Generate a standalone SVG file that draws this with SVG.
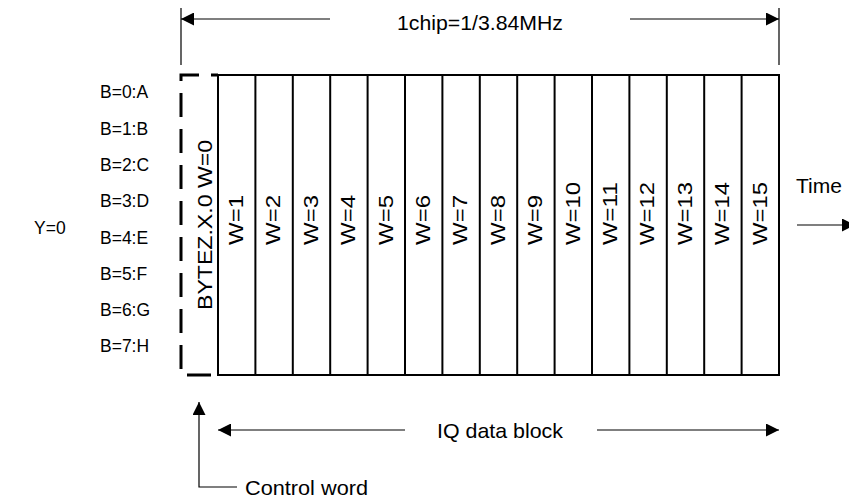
<svg xmlns="http://www.w3.org/2000/svg" width="849" height="501" viewBox="0 0 849 501">
<style>
text{font-family:"Liberation Sans",Arial,sans-serif;font-size:21px;fill:#000}
.bl{font-size:17.5px}
.vl{font-size:20px}
.thin{stroke:#000;stroke-width:1.2;fill:none}
.grid{stroke:#000;stroke-width:2;fill:none}
.dash{stroke:#000;stroke-width:3;fill:none;stroke-dasharray:24 12;stroke-dashoffset:17}
</style>
<defs>
<marker id="ah" viewBox="0 0 10 10" refX="10" refY="5" markerWidth="13" markerHeight="13" markerUnits="userSpaceOnUse" orient="auto">
<path d="M0,0 L10,5 L0,10 Z" fill="#000"/>
</marker>
</defs>
<g id="labels-left">
<text class="bl" x="34" y="234">Y=0</text>
<text class="bl" x="100" y="98">B=0:A</text>
<text class="bl" x="100" y="134.5">B=1:B</text>
<text class="bl" x="100" y="171">B=2:C</text>
<text class="bl" x="100" y="207">B=3:D</text>
<text class="bl" x="100" y="243.5">B=4:E</text>
<text class="bl" x="100" y="280">B=5:F</text>
<text class="bl" x="100" y="316">B=6:G</text>
<text class="bl" x="100" y="352">B=7:H</text>
</g>
<g id="control-word-box">
<path class="dash" d="M218,75 H181 V375 H218"/>
<text class="vl" transform="translate(212,310) rotate(-90)" textLength="170" lengthAdjust="spacingAndGlyphs">BYTEZ.X.0 W=0</text>
</g>
<g id="iq-block">
<path class="grid" d="M218,75 H779 V375 H218 Z"/>
<path class="grid" d="M255.4,75V375M292.8,75V375M330.2,75V375M367.6,75V375M405,75V375M442.4,75V375M479.8,75V375M517.2,75V375M554.6,75V375M592,75V375M629.4,75V375M666.8,75V375M704.2,75V375M741.6,75V375"/>
<text class="vl" transform="translate(243,245) rotate(-90)" textLength="50" lengthAdjust="spacingAndGlyphs">W=1</text>
<text class="vl" transform="translate(280.4,245) rotate(-90)" textLength="50" lengthAdjust="spacingAndGlyphs">W=2</text>
<text class="vl" transform="translate(317.8,245) rotate(-90)" textLength="50" lengthAdjust="spacingAndGlyphs">W=3</text>
<text class="vl" transform="translate(355.2,245) rotate(-90)" textLength="50" lengthAdjust="spacingAndGlyphs">W=4</text>
<text class="vl" transform="translate(392.6,245) rotate(-90)" textLength="50" lengthAdjust="spacingAndGlyphs">W=5</text>
<text class="vl" transform="translate(430,245) rotate(-90)" textLength="50" lengthAdjust="spacingAndGlyphs">W=6</text>
<text class="vl" transform="translate(467.4,245) rotate(-90)" textLength="50" lengthAdjust="spacingAndGlyphs">W=7</text>
<text class="vl" transform="translate(504.8,245) rotate(-90)" textLength="50" lengthAdjust="spacingAndGlyphs">W=8</text>
<text class="vl" transform="translate(542.2,245) rotate(-90)" textLength="50" lengthAdjust="spacingAndGlyphs">W=9</text>
<text class="vl" transform="translate(579.6,245) rotate(-90)" textLength="63" lengthAdjust="spacingAndGlyphs">W=10</text>
<text class="vl" transform="translate(617,245) rotate(-90)" textLength="63" lengthAdjust="spacingAndGlyphs">W=11</text>
<text class="vl" transform="translate(654.4,245) rotate(-90)" textLength="63" lengthAdjust="spacingAndGlyphs">W=12</text>
<text class="vl" transform="translate(691.8,245) rotate(-90)" textLength="63" lengthAdjust="spacingAndGlyphs">W=13</text>
<text class="vl" transform="translate(729.2,245) rotate(-90)" textLength="63" lengthAdjust="spacingAndGlyphs">W=14</text>
<text class="vl" transform="translate(766.6,245) rotate(-90)" textLength="63" lengthAdjust="spacingAndGlyphs">W=15</text>
</g>
<g id="connectors">
<path class="thin" d="M181,8V65M779,8V65"/>
<path class="thin" d="M330,19H181" marker-end="url(#ah)"/>
<path class="thin" d="M630,19H779" marker-end="url(#ah)"/>
<path class="thin" d="M405,430H218" marker-end="url(#ah)"/>
<path class="thin" d="M597,430H779" marker-end="url(#ah)"/>
<path class="thin" d="M237,487H199V402" marker-end="url(#ah)"/>
<path class="thin" d="M797,225H855" marker-end="url(#ah)"/>
</g>
<g id="texts">
<text x="480" y="30" text-anchor="middle" textLength="166" lengthAdjust="spacingAndGlyphs">1chip=1/3.84MHz</text>
<text x="500" y="438" text-anchor="middle" textLength="126" lengthAdjust="spacingAndGlyphs">IQ data block</text>
<text x="245" y="495" textLength="123" lengthAdjust="spacingAndGlyphs">Control word</text>
<text x="796" y="193" font-size="20">Time</text>
</g>
</svg>
